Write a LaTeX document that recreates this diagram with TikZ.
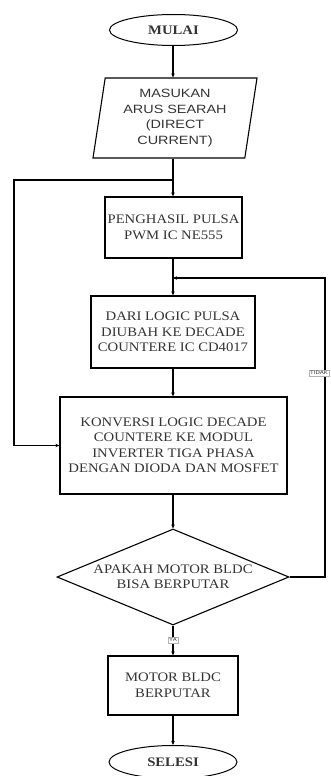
\documentclass[tikz,border=0pt]{standalone}
\usepackage{fontspec}
\newfontfamily\boxfont{Liberation Serif}[FakeStretch=1.13]
\newfontfamily\inpfont{Liberation Sans}[FakeStretch=1.2]
\usetikzlibrary{shapes.geometric,arrows.meta}
\tikzset{
  every node/.style={inner sep=0pt, align=center, text=black!80, font=\boxfont\fontsize{13}{15.5}\selectfont},
  box/.style={draw=black, line width=1.3pt, rectangle},
  term/.style={draw=black, line width=1pt, ellipse, font=\boxfont\bfseries\fontsize{13}{15.5}\selectfont},
  inbox/.style={draw=black, line width=1.1pt, trapezium, trapezium left angle=78, trapezium right angle=102,
     trapezium stretches body, font=\inpfont\fontsize{12}{15.5}\selectfont},
  decision/.style={draw=black, line width=1.1pt, diamond},
  arr/.style={line width=1.1pt, -{Stealth[length=4pt,width=3.5pt]}},
  lbl/.style={fill=white, draw=black!30, line width=0.3pt, inner sep=1pt, font=\inpfont\fontsize{5}{6}\selectfont}
}
\begin{document}
\begin{tikzpicture}[x=1pt,y=-1pt]
\useasboundingbox (0,0) rectangle (331,776);
\node[term, minimum width=128, minimum height=31] (mulai) at (173.5,30) {MULAI};
\node[inbox, minimum width=164, minimum height=80] (inp) at (175,118) {MASUKAN\\ARUS SEARAH\\(DIRECT\\CURRENT)};
\node[box, minimum width=137, minimum height=61] (pwm) at (173.5,227.5) {PENGHASIL PULSA\\PWM IC NE555};
\node[box, minimum width=164, minimum height=72] (dari) at (173,332) {DARI LOGIC PULSA\\DIUBAH KE DECADE\\COUNTERE IC CD4017};
\node[box, minimum width=227, minimum height=97] (konv) at (173.5,445.5) {KONVERSI LOGIC DECADE\\COUNTERE KE MODUL\\INVERTER TIGA PHASA\\DENGAN DIODA DAN MOSFET};
\node[decision, minimum width=232, minimum height=96, aspect=2.4] (dec) at (173,577) {APAKAH MOTOR BLDC\\BISA BERPUTAR};
\node[box, minimum width=130, minimum height=59] (motor) at (173,685.5) {MOTOR BLDC\\BERPUTAR};
\node[term, minimum width=128, minimum height=33] (selesi) at (173,762) {SELESI};

\coordinate (j1) at (173,180);
\coordinate (j2) at (173,278);
\coordinate (lc) at (14,445.5);
\coordinate (rc) at (325,278);

\draw[arr] (mulai.south -| j1) -- (inp.north -| j1);
\draw[arr] (inp.south -| j1) -- (pwm.north -| j1);
\draw[arr] (j1) -- (j1 -| lc) -- (lc) -- (konv.west);
\draw[arr] (pwm.south -| j2) -- (dari.north -| j2);
\draw[arr] (dec.east) -| (rc) -- (j2);
\draw[arr] (dari.south -| j2) -- (konv.north -| j2);
\draw[arr] (konv.south -| dec) -- (dec.north);
\draw[arr] (dec.south) -- (motor.north);
\draw[arr] (motor.south) -- (selesi.north);
\node[lbl] (ya) at (173,640) {YA};
\node[lbl] (tidak) at (319,373) {TIDAK};
\end{tikzpicture}
\end{document}
